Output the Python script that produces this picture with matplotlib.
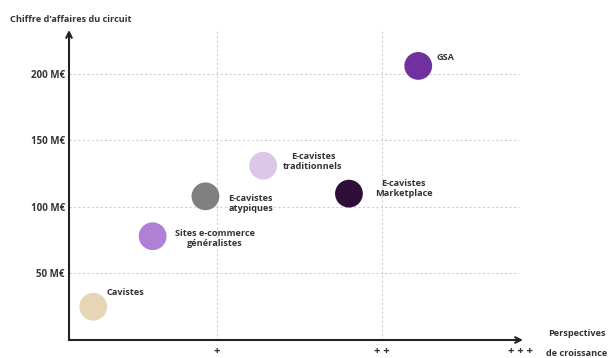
import matplotlib.pyplot as plt

plt.rcParams['font.family'] = ['Open Sans', 'DejaVu Sans']

names = ["GSA", "E-cavistes\ntraditionnels", "E-cavistes\natypiques",
         "Sites e-commerce\ngénéralistes", "Cavistes", "E-cavistes\nMarketplace"]
growth = [2.22, 1.28, 0.93, 0.61, 0.25, 1.80]
revenue = [206, 131, 108, 78, 25, 110]
colors = ["#7030a0", "#dcc6ea", "#808080", "#b07fd6", "#e6d6b6", "#2e0f3a"]
label_off = [(18, 8), (20, 4), (23, -7), (22, -2), (13, 14), (26, 5)]

y_ticks = [50, 100, 150, 200]
y_labels = ["50 M€", "100 M€", "150 M€", "200 M€"]
x_ticks = [1, 2, 2.84]
x_labels = ["+", "+ +", "+ + +"]

W, H = 608, 358
fs = 6.6
fig = plt.figure(figsize=(W / 100, H / 100), dpi=100)
ax = fig.add_axes([69 / W, (H - 340) / H, (523 - 69) / W, (340 - 30) / H])
ax.set_xlim(0.103, 2.855)
ax.set_ylim(0, 233)

for s in ax.spines.values():
    s.set_visible(False)

for y in y_ticks:
    ax.plot([0.103, 2.83], [y, y], color="#cfcfcf", lw=0.8, ls=(0, (2, 2)), zorder=0)
for x in x_ticks[:2]:
    ax.plot([x, x], [0, 233], color="#cfcfcf", lw=0.8, ls=(0, (2, 2)), zorder=0)

# axes with arrows
ax.annotate("", xy=(0, 1), xytext=(0, 0), xycoords="axes fraction",
            arrowprops=dict(arrowstyle="->", lw=1.5, color="#222222", shrinkA=0, shrinkB=0))
ax.annotate("", xy=(1, 0), xytext=(0, 0), xycoords="axes fraction",
            arrowprops=dict(arrowstyle="->", lw=1.5, color="#222222", shrinkA=0, shrinkB=0))

ax.scatter(growth, revenue, s=400, c=colors, edgecolors="none", zorder=3)
for n, x, y, off in zip(names, growth, revenue, label_off):
    ax.annotate(n, (x, y), xytext=off, textcoords="offset pixels", ha="left", va="center",
                multialignment="center", fontsize=fs, fontweight="bold", color="#333333",
                linespacing=1.15)

ax.set_yticks(y_ticks)
ax.set_yticklabels(y_labels, fontsize=7, fontweight="bold", color="#333333")
ax.set_xticks(x_ticks)
ax.set_xticklabels(x_labels, fontsize=8, fontweight="bold", color="#333333")
ax.tick_params(length=0, axis="y", pad=3)
ax.tick_params(length=0, axis="x", pad=4)

fig.text(10 / W, 1 - 20 / H, "Chiffre d'affaires du circuit", fontsize=fs, fontweight="bold",
         color="#333333", va="center", ha="left")
fig.text(577 / W, 1 - 333 / H, "Perspectives", fontsize=fs, fontweight="bold",
         color="#333333", va="center", ha="center")
fig.text(577 / W, 1 - 353 / H, "de croissance", fontsize=fs, fontweight="bold",
         color="#333333", va="center", ha="center")

fig.savefig("out.png", dpi=100)
